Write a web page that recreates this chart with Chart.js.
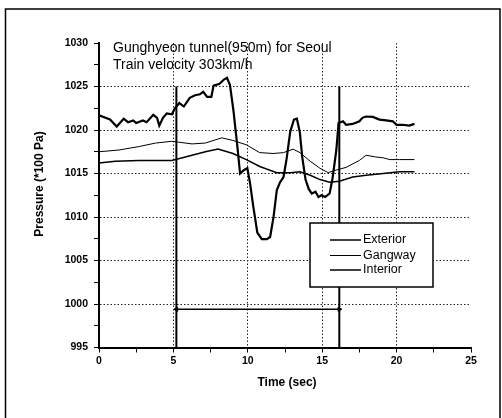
<!DOCTYPE html>
<html lang="en">
<head>
  <meta charset="UTF-8">
  <title>Gunghyeon tunnel pressure</title>
  <script src="https://cdn.jsdelivr.net/npm/chart.js"></script>
  <style>
    body { margin: 0; background: #fff; }
    #wrap { width: 502px; height: 418px; }
  </style>
</head>
<body>
  <div id="wrap"><canvas id="chart" width="502" height="418"></canvas></div>

  <script>
    // Exterior pressure (thick line)
    var extTime = [0, 0.74, 1.19, 1.66, 1.95, 2.3, 2.5, 2.95, 3.2, 3.65, 3.9, 4.05, 4.3, 4.55, 4.9, 5.1, 5.4, 5.7, 6.1, 6.45, 6.78, 7.0, 7.27, 7.55, 7.7, 8.1, 8.4, 8.6, 8.8, 9.03, 9.3, 9.48, 9.75, 9.97, 10.15, 10.37, 10.64, 10.94, 11.28, 11.5, 11.73, 11.95, 12.17, 12.4, 12.6, 12.85, 13.1, 13.3, 13.5, 13.65, 13.88, 14.1, 14.3, 14.55, 14.75, 14.95, 15.2, 15.5, 15.7, 15.95, 16.1, 16.4, 16.6, 17.05, 17.5, 17.7, 17.95, 18.4, 18.85, 19.3, 19.75, 20.0, 20.4, 20.85, 21.2];
    var extPressure = [1021.7, 1021.2, 1020.4, 1021.3, 1020.9, 1021.1, 1020.8, 1021.1, 1020.9, 1021.75, 1021.4, 1020.5, 1021.4, 1021.9, 1021.8, 1022.5, 1023.1, 1022.7, 1023.7, 1024.0, 1024.1, 1024.4, 1023.8, 1023.8, 1025.1, 1025.3, 1025.8, 1026.0, 1025.2, 1022.3, 1018.1, 1015.0, 1015.4, 1015.6, 1013.9, 1011.2, 1008.2, 1007.45, 1007.45, 1007.7, 1010.0, 1013.1, 1014.0, 1014.6, 1016.6, 1019.8, 1021.2, 1021.3, 1019.7, 1017.0, 1014.3, 1013.2, 1012.7, 1012.9, 1012.3, 1012.5, 1012.3, 1012.7, 1014.5, 1017.7, 1020.8, 1021.0, 1020.6, 1020.7, 1021.0, 1021.4, 1021.55, 1021.5, 1021.2, 1021.1, 1021.0, 1020.6, 1020.6, 1020.5, 1020.7];

    // Gangway pressure (thin line)
    var gangTime = [0, 1.35, 2.7, 3.8, 4.9, 5.35, 6.25, 7.15, 8.25, 9.0, 9.9, 10.8, 11.7, 12.4, 13.05, 13.5, 14.2, 14.85, 15.4, 15.95, 16.6, 17.5, 17.95, 18.6, 19.1, 19.55, 20.2, 21.2];
    var gangPressure = [1017.5, 1017.7, 1018.1, 1018.5, 1018.7, 1018.6, 1018.4, 1018.5, 1019.1, 1018.8, 1018.3, 1017.4, 1017.3, 1017.4, 1017.8, 1017.4, 1016.4, 1015.6, 1015.1, 1015.4, 1015.7, 1016.5, 1017.1, 1016.9, 1016.8, 1016.6, 1016.6, 1016.6];

    // Interior pressure (medium line)
    var intTime = [0, 1.1, 2.7, 3.8, 4.9, 5.8, 7.15, 8.0, 9.0, 9.9, 10.8, 11.95, 12.85, 13.5, 14.2, 14.85, 15.5, 16.15, 17.05, 17.95, 19.1, 20.2, 21.2];
    var intPressure = [1016.2, 1016.4, 1016.5, 1016.5, 1016.5, 1016.9, 1017.5, 1017.8, 1017.3, 1016.6, 1015.8, 1015.1, 1015.1, 1015.2, 1014.8, 1014.3, 1014.0, 1014.1, 1014.6, 1014.8, 1015.0, 1015.2, 1015.2];

    // tunnel entry / exit markers and the span between them
    var tunnelTimes = [5.2, 16.15];
    var markerRange = [995, 1025];
    var spanLevel = 999.4;

    var seriesLabels = ['Exterior', 'Gangway', 'Interior'];
    var seriesWidths = [2.2, 1, 1.5];
    var titleLines = ['Gunghyeon tunnel(950m) for Seoul', 'Train velocity 303km/h'];

    function toPoints(xs, ys) {
      return xs.map(function(x, i) { return { x: x, y: ys[i] }; });
    }

    var datasets = [
      { label: seriesLabels[0], data: toPoints(extTime, extPressure), borderWidth: seriesWidths[0] },
      { label: seriesLabels[1], data: toPoints(gangTime, gangPressure), borderWidth: seriesWidths[1] },
      { label: seriesLabels[2], data: toPoints(intTime, intPressure), borderWidth: seriesWidths[2] }
    ];
    tunnelTimes.forEach(function(t) {
      datasets.push({ label: 'marker', data: [{ x: t, y: markerRange[1] }, { x: t, y: markerRange[0] }], borderWidth: 2 });
    });
    datasets.forEach(function(d) {
      d.pointRadius = 0;
    });
    // span line with small arrow heads at both ends
    datasets.push({
      label: 'span',
      data: [{ x: tunnelTimes[0], y: spanLevel }, { x: tunnelTimes[1], y: spanLevel }],
      borderWidth: 1.5,
      pointStyle: 'triangle',
      pointRadius: 2.5,
      pointRotation: [-90, 90],
      pointBorderWidth: 1
    });
    datasets.forEach(function(d) {
      d.borderColor = '#000';
      d.backgroundColor = '#000';
      d.tension = 0;
      d.fill = false;
    });

    // frame, titles, axis titles and the boxed legend
    var decor = {
      id: 'decor',
      beforeDraw: function(chart) {
        var ctx = chart.ctx;
        ctx.save();
        ctx.fillStyle = '#fff';
        ctx.fillRect(0, 0, chart.width, chart.height);
        ctx.strokeStyle = '#000';
        ctx.lineWidth = 1.5;
        ctx.beginPath();
        ctx.moveTo(5.5, 420);
        ctx.lineTo(5.5, 9);
        ctx.lineTo(500, 9);
        ctx.lineTo(500, 420);
        ctx.stroke();
        ctx.restore();
      },
      afterDraw: function(chart) {
        var ctx = chart.ctx;
        ctx.save();
        ctx.fillStyle = '#000';
        ctx.font = '14px "Liberation Sans", Arial, sans-serif';
        ctx.textBaseline = 'middle';
        ctx.textAlign = 'left';
        ctx.fillText(titleLines[0], 113, 48);
        ctx.fillText(titleLines[1], 113, 65);

        ctx.font = 'bold 12px "Liberation Sans", Arial, sans-serif';
        ctx.textAlign = 'center';
        ctx.fillText('Time (sec)', 287, 383);
        ctx.translate(40, 184);
        ctx.rotate(-Math.PI / 2);
        ctx.fillText('Pressure (*100 Pa)', 0, 0);
        ctx.restore();

        // legend box
        ctx.save();
        ctx.fillStyle = '#fff';
        ctx.fillRect(310, 223, 123, 64);
        ctx.strokeStyle = '#000';
        ctx.lineWidth = 1.5;
        ctx.strokeRect(310, 223, 123, 64);
        ctx.font = '12.5px "Liberation Sans", Arial, sans-serif';
        ctx.textAlign = 'left';
        ctx.textBaseline = 'middle';
        ctx.fillStyle = '#000';
        var rows = [240, 255.5, 270];
        seriesLabels.forEach(function(lbl, i) {
          ctx.lineWidth = Math.min(seriesWidths[i], 1.5);
          ctx.beginPath();
          ctx.moveTo(330, rows[i]);
          ctx.lineTo(361, rows[i]);
          ctx.stroke();
          ctx.fillText(lbl, 363, rows[i]);
        });
        ctx.restore();
      }
    };

    function isMajor(v) { return Math.abs(v / 5 - Math.round(v / 5)) < 1e-6; }

    function gridColor(ctx, lo, hi) {
      var v = ctx.tick ? ctx.tick.value : null;
      if (v === null || !isMajor(v) || v === lo || v === hi) return 'rgba(0,0,0,0)';
      return '#222';
    }

    var tickFont = { family: '"Liberation Sans", Arial, sans-serif', size: 10.5, weight: 'bold' };

    new Chart(document.getElementById('chart').getContext('2d'), {
      type: 'line',
      data: { datasets: datasets },
      plugins: [decor],
      options: {
        responsive: false,
        animation: false,
        layout: { padding: { top: 43, right: 31, left: 0, bottom: 0 } },
        plugins: { legend: { display: false }, tooltip: { enabled: false } },
        scales: {
          x: {
            type: 'linear',
            min: 0,
            max: 25,
            afterFit: function(scale) { scale.height = 70.5; },
            ticks: {
              stepSize: 2.5,
              autoSkip: false,
              maxRotation: 0,
              padding: 2,
              color: '#000',
              font: tickFont,
              callback: function(v) { return isMajor(v) ? v : ''; }
            },
            grid: {
              color: function(ctx) { return gridColor(ctx, 0, 25); },
              tickColor: '#000',
              tickLength: 5,
              lineWidth: 1
            },
            border: { display: true, color: '#000', width: 2, dash: [1.5, 2] }
          },
          y: {
            min: 995,
            max: 1030,
            afterFit: function(scale) { scale.width = 99; },
            ticks: {
              stepSize: 2.5,
              autoSkip: false,
              padding: 6,
              color: '#000',
              font: tickFont,
              callback: function(v) { return isMajor(v) ? v : ''; }
            },
            grid: {
              color: function(ctx) { return gridColor(ctx, 995, 1030); },
              tickColor: '#000',
              tickLength: 5,
              lineWidth: 1
            },
            border: { display: true, color: '#000', width: 2, dash: [1.5, 2] }
          }
        }
      }
    });
  </script>
</body>
</html>
